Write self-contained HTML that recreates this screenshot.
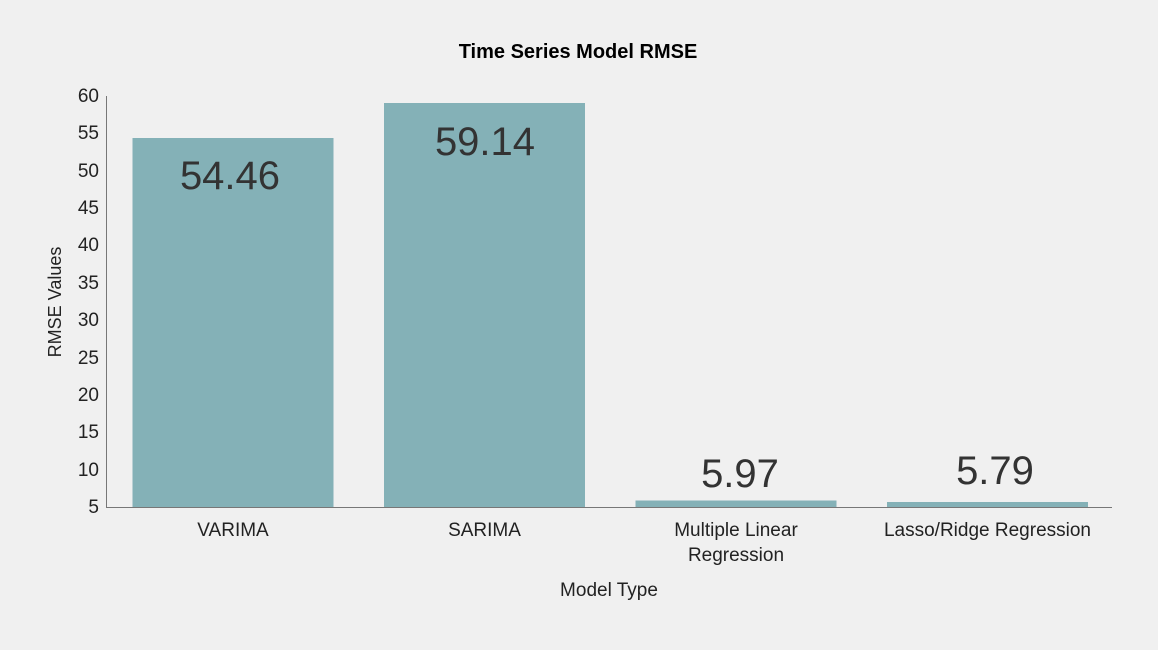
<!DOCTYPE html>
<html><head><meta charset="utf-8"><style>
html,body{margin:0;padding:0;background:#f0f0f0;}
svg{display:block;font-family:"Liberation Sans",sans-serif;}
</style></head><body>
<svg width="1158" height="650" viewBox="0 0 1158 650">
<rect width="1158" height="650" fill="#f0f0f0"/>
<text x="578" y="58" text-anchor="middle" font-size="20" font-weight="bold" fill="#000">Time Series Model RMSE</text>
<g fill="#84b1b7">
<rect x="132.5" y="138" width="201" height="369"/>
<rect x="384" y="103" width="201" height="404"/>
<rect x="635.5" y="500.5" width="201" height="6.5"/>
<rect x="887" y="502" width="201" height="5"/>
</g>
<line x1="106.5" y1="96" x2="106.5" y2="507" stroke="#777" stroke-width="1"/>
<line x1="106" y1="507.5" x2="1112" y2="507.5" stroke="#777" stroke-width="1"/>
<g font-size="19" fill="#222" text-anchor="end">
<text x="99" y="513">5</text>
<text x="99" y="476">10</text>
<text x="99" y="438">15</text>
<text x="99" y="401">20</text>
<text x="99" y="364">25</text>
<text x="99" y="326">30</text>
<text x="99" y="289">35</text>
<text x="99" y="251">40</text>
<text x="99" y="214">45</text>
<text x="99" y="177">50</text>
<text x="99" y="139">55</text>
<text x="99" y="102">60</text>
</g>
<g font-size="40" fill="#333" text-anchor="middle">
<text x="230" y="189">54.46</text>
<text x="485" y="155">59.14</text>
<text x="740" y="487">5.97</text>
<text x="995" y="484">5.79</text>
</g>
<g font-size="19" fill="#222" text-anchor="middle">
<text x="233" y="536">VARIMA</text>
<text x="484.5" y="536">SARIMA</text>
<text x="736" y="536">Multiple Linear</text>
<text x="736" y="561">Regression</text>
<text x="987.5" y="536">Lasso/Ridge Regression</text>
<text x="609" y="596">Model Type</text>
</g>
<text transform="translate(61,302) rotate(-90)" text-anchor="middle" font-size="18" fill="#222">RMSE Values</text>
</svg>
</body></html>
